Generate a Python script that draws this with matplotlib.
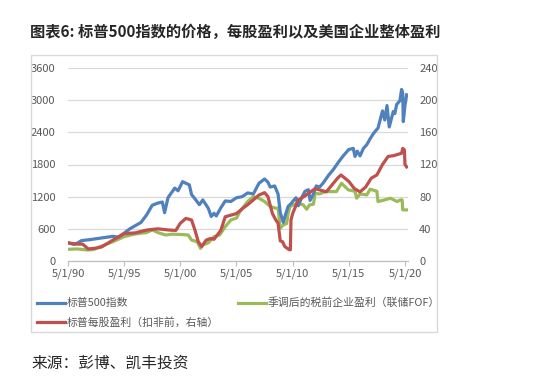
import matplotlib
matplotlib.use("Agg")
import matplotlib.pyplot as plt
from matplotlib.lines import Line2D
from matplotlib.patches import Rectangle

plt.rcParams['font.family'] = ['Noto Sans CJK SC', 'DejaVu Sans']

# S&P 500 price (left axis)
blue_t = [1990.0, 1990.5, 1990.8, 1991.2, 1992.0, 1993.0, 1994.0, 1994.5, 1995.0, 1995.5,
          1996.0, 1996.5, 1997.0, 1997.5, 1998.0, 1998.4, 1998.6, 1998.9, 1999.5, 1999.8,
          2000.2, 2000.5, 2000.8, 2001.0, 2001.3, 2001.7, 2002.0, 2002.5, 2002.75, 2003.0,
          2003.2, 2003.6, 2004.0, 2004.5, 2005.0, 2005.5, 2006.0, 2006.5, 2007.0, 2007.5,
          2007.8, 2008.0, 2008.4, 2008.7, 2008.9, 2009.17, 2009.3, 2009.6, 2009.9, 2010.0,
          2010.3, 2010.5, 2010.8, 2011.1, 2011.4, 2011.55, 2011.85, 2012.1, 2012.4, 2012.7,
          2013.2, 2013.6, 2014.1, 2014.5, 2015.0, 2015.4, 2015.55, 2015.75, 2016.0, 2016.3,
          2016.6, 2016.9, 2017.2, 2017.6, 2018.0, 2018.2, 2018.4, 2018.6, 2018.96, 2019.1,
          2019.26, 2019.55, 2019.7, 2019.8, 2019.85, 2020.0, 2020.15]
blue_v = [340, 310, 330, 380, 400, 430, 460, 445, 520, 600,
          660, 720, 860, 1040, 1080, 1100, 900, 1180, 1360, 1310,
          1480, 1450, 1420, 1240, 1160, 1050, 1140, 980, 830, 890,
          840, 990, 1120, 1110, 1180, 1200, 1270, 1250, 1450, 1530,
          1470, 1380, 1400, 1250, 900, 720, 820, 1020, 1080, 1110,
          1180, 1030, 1180, 1300, 1330, 1130, 1250, 1400, 1380, 1450,
          1600, 1700, 1850, 1960, 2080, 2100, 1950, 2050, 1960, 2100,
          2170, 2280, 2380, 2480, 2800, 2630, 2900, 2500, 2790, 2750,
          2920, 2990, 3200, 3130, 2600, 2900, 3100]

# S&P 500 EPS (right axis)
red_t = [1990.0, 1990.8, 1991.3, 1991.8, 1992.5, 1993.0, 1994.0, 1995.0, 1996.0, 1997.0,
         1998.0, 1999.0, 1999.6, 2000.0, 2000.5, 2001.0, 2001.3, 2001.6, 2001.9, 2002.3,
         2002.7, 2003.0, 2003.6, 2004.0, 2004.5, 2005.0, 2005.6, 2006.0, 2007.0, 2007.5,
         2007.8, 2008.2, 2008.5, 2008.7, 2008.9, 2009.1, 2009.3, 2009.7, 2009.8, 2009.85,
         2010.0, 2010.5, 2011.0, 2012.0, 2013.0, 2014.0, 2014.3, 2015.0, 2015.5, 2016.0,
         2016.5, 2017.0, 2017.5, 2018.0, 2018.5, 2019.0, 2019.7, 2019.8, 2019.95, 2020.0,
         2020.15]
red_v = [22.5, 21, 21, 15, 16, 17.5, 26, 34, 35, 38.5,
         40, 38.5, 38, 47, 53, 51, 38.5, 24, 18, 26,
         28, 27, 38, 55, 57, 59, 66, 70, 82, 85,
         80, 59, 51, 47, 25, 24, 18, 14, 14, 51,
         59, 76, 80, 90, 86, 103, 107, 99, 90, 86,
         92, 103, 107, 120, 130, 131, 134, 140, 138, 120,
         117]

# corporate profits, seasonally adjusted (left axis)
green_t = [1990.0, 1990.8, 1991.7, 1992.3, 1993.0, 1994.0, 1995.0, 1996.0, 1997.0, 1997.5,
           1998.0, 1998.7, 1999.3, 2000.0, 2000.7, 2001.0, 2001.5, 2001.8, 2002.0, 2002.5,
           2003.0, 2003.5, 2004.0, 2004.5, 2005.0, 2005.3, 2006.0, 2006.5, 2007.0, 2007.5,
           2008.0, 2008.5, 2008.72, 2008.87, 2009.17, 2009.47, 2009.6, 2009.76, 2010.06, 2010.5,
           2010.95, 2011.25, 2011.5, 2011.85, 2012.0, 2012.4, 2012.9, 2013.9, 2014.35, 2014.95,
           2015.55, 2015.7, 2016.0, 2016.6, 2016.9, 2017.5, 2017.6, 2018.2, 2018.7, 2019.3,
           2019.6, 2019.75, 2019.8, 2020.15]
green_v = [218, 225, 205, 215, 280, 360, 455, 505, 530, 580,
           530, 485, 500, 495, 485, 390, 360, 235, 300, 340,
           455, 485, 640, 765, 800, 920, 1110, 1200, 1170, 1110,
           1015, 985, 985, 610, 673, 700, 890, 1015, 1046, 1077,
           1046, 965, 1046, 1060, 1264, 1250, 1295, 1295, 1450, 1327,
           1300, 1171, 1250, 1233, 1339, 1300, 1109, 1140, 1171, 1109,
           1140, 1140, 953, 953]

x_ticks = [1990, 1995, 2000, 2005, 2010, 2015, 2020]
x_labels = ["5/1/90", "5/1/95", "5/1/00", "5/1/05", "5/1/10", "5/1/15", "5/1/20"]
left_ticks = [0, 600, 1200, 1800, 2400, 3000, 3600]
right_ticks = [0, 40, 80, 120, 160, 200, 240]

title = "图表6: 标普500指数的价格，每股盈利以及美国企业整体盈利"
names = ["标普500指数", "季调后的税前企业盈利（联储FOF）", "标普每股盈利（扣非前，右轴）"]
source = "来源：彭博、凯丰投资"

BLUE = "#4F81BD"
RED = "#C0504D"
GREEN = "#9BBB59"
GRAY = "#595959"

W, H = 549, 385
fig = plt.figure(figsize=(W / 100, H / 100), dpi=100)

# chart frame
fig.add_artist(Rectangle((31 / W, 1 - 332 / H), (437 - 31) / W, (332 - 55) / H,
                         transform=fig.transFigure, fill=False, ec="#D9D9D9", lw=1))

ax = fig.add_axes([68 / W, 1 - 261 / H, (408 - 68) / W, (261 - 68) / H])
ax2 = ax.twinx()

lw = 2.3
ax.plot(blue_t, blue_v, color=BLUE, lw=lw, zorder=3)
ax.plot(green_t, green_v, color=GREEN, lw=lw, zorder=2)
ax2.plot(red_t, red_v, color=RED, lw=lw, zorder=3)

ax.set_xlim(1990, 2020.27)
ax.set_ylim(0, 3600)
ax2.set_ylim(0, 240)
ax.set_yticks(left_ticks)
ax2.set_yticks(right_ticks)
ax.set_xticks(x_ticks)
ax.set_xticklabels(x_labels)
ax.grid(axis="y", color="#D9D9D9", lw=0.9)
ax.set_axisbelow(True)

for a in (ax, ax2):
    for s in ("top", "left", "right"):
        a.spines[s].set_visible(False)
    a.spines["bottom"].set_color("#BFBFBF")
    a.tick_params(labelsize=8, colors=GRAY)
ax.tick_params(axis="y", length=0, pad=9)
ax2.tick_params(axis="y", length=0, pad=8)
ax.tick_params(axis="x", length=3.5, color="#BFBFBF", pad=2)
for lab in ax.get_yticklabels() + ax2.get_yticklabels() + ax.get_xticklabels():
    lab.set_color(GRAY)

fig.text(30 / W, 1 - 32 / H, title, fontsize=11, fontweight="bold", color="#262626",
         va="center", ha="left")

# legend
entries = [(37, 303, BLUE, names[0]), (238, 303, GREEN, names[1]), (37, 322, RED, names[2])]
for x0, y0, c, name in entries:
    fig.add_artist(Line2D([x0 / W, (x0 + 28) / W], [1 - y0 / H, 1 - y0 / H],
                          transform=fig.transFigure, color=c, lw=2.3))
    fig.text((x0 + 30) / W, 1 - y0 / H, name, fontsize=7.8, color=GRAY,
             va="center", ha="left")

fig.text(31 / W, 1 - 363 / H, source, fontsize=11.3, color="#262626", va="center", ha="left")

fig.savefig("out.png", dpi=100)
